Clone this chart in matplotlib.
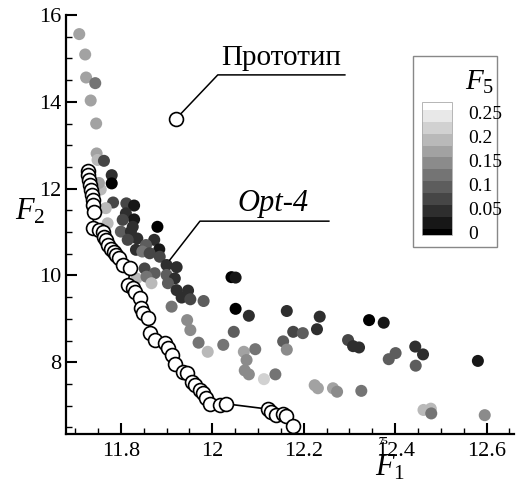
import numpy as np
import matplotlib
matplotlib.use('Agg')
import matplotlib.pyplot as plt
from matplotlib.colors import BoundaryNorm, ListedColormap
from matplotlib.patches import Rectangle

plt.rcParams['font.family'] = ['Liberation Serif', 'DejaVu Serif']
plt.rcParams['mathtext.fontset'] = 'custom'
plt.rcParams['mathtext.rm'] = 'Liberation Serif'
plt.rcParams['mathtext.it'] = 'Liberation Serif:italic'

# Pareto front (open circles joined by a line)
paretoF1 = [11.729, 11.729, 11.731, 11.732, 11.734, 11.737, 11.738, 11.739, 11.742,
            11.738, 11.753, 11.760, 11.763, 11.767, 11.771, 11.778, 11.785, 11.789,
            11.796, 11.805, 11.820, 11.816, 11.827, 11.831, 11.842, 11.845, 11.849,
            11.860, 11.863, 11.874, 11.896, 11.903, 11.911, 11.918, 11.936, 11.944,
            11.955, 11.962, 11.973, 11.980, 11.987, 11.995, 12.016, 12.031, 12.122,
            12.129, 12.140, 12.155, 12.162, 12.177]
paretoF2 = [12.40, 12.31, 12.20, 12.08, 11.97, 11.85, 11.74, 11.62, 11.47,
            11.09, 11.05, 11.01, 10.89, 10.82, 10.70, 10.62, 10.55, 10.47,
            10.39, 10.24, 10.16, 9.78, 9.70, 9.62, 9.47, 9.24, 9.13,
            9.01, 8.67, 8.51, 8.44, 8.32, 8.17, 7.97, 7.78, 7.76,
            7.55, 7.47, 7.36, 7.28, 7.17, 7.04, 7.01, 7.04, 6.92,
            6.86, 6.78, 6.81, 6.76, 6.53]

# population, coloured by F5
popF1 = [11.709, 11.722, 11.724, 11.744, 11.734, 11.746, 11.747, 11.749, 11.763, 11.780,
         11.780, 11.756, 11.752, 11.783, 11.767, 11.812, 11.829, 11.811, 11.829, 11.804,
         11.826, 11.771, 11.800, 11.822, 11.880, 11.836, 11.815, 11.873, 11.855, 11.884,
         11.833, 11.847, 11.863, 11.885, 11.900, 11.922, 11.852, 11.874, 11.834, 11.856,
         11.867, 11.900, 11.918, 11.903, 11.922, 11.947, 11.933, 11.952, 11.981, 11.911,
         12.042, 12.051, 12.051, 12.080, 12.163, 12.235, 12.229, 12.177, 12.198, 12.047,
         12.155, 12.163, 11.945, 11.952, 11.970, 11.990, 12.024, 12.069, 12.094, 12.075,
         12.071, 12.080, 12.113, 12.138, 12.224, 12.231, 12.264, 12.273, 12.326, 12.343,
         12.375, 12.297, 12.308, 12.321, 12.386, 12.401, 12.444, 12.461, 12.445, 12.581,
         12.462, 12.478, 12.479, 12.596]
popF2 = [15.56, 15.09, 14.56, 14.43, 14.03, 13.50, 12.81, 12.66, 12.64, 12.31,
         12.12, 11.98, 12.13, 11.68, 11.55, 11.66, 11.61, 11.43, 11.29, 11.28,
         11.12, 11.20, 11.01, 11.01, 11.12, 10.85, 10.82, 10.82, 10.70, 10.60,
         10.59, 10.55, 10.51, 10.43, 10.24, 10.19, 10.16, 10.05, 9.93, 9.97,
         9.82, 10.01, 9.93, 9.82, 9.66, 9.65, 9.49, 9.45, 9.41, 9.28,
         9.96, 9.95, 9.23, 9.07, 9.18, 9.05, 8.76, 8.70, 8.67, 8.70,
         8.48, 8.29, 8.97, 8.74, 8.45, 8.24, 8.40, 8.24, 8.30, 8.05,
         7.81, 7.72, 7.61, 7.72, 7.47, 7.40, 7.40, 7.32, 7.34, 8.97,
         8.91, 8.51, 8.37, 8.34, 8.07, 8.21, 8.36, 8.18, 7.92, 8.03,
         6.90, 6.93, 6.82, 6.78]
popF5 = [0.17, 0.17, 0.16, 0.11, 0.17, 0.16, 0.18, 0.19, 0.06, 0.04,
         0.00, 0.20, 0.18, 0.08, 0.19, 0.06, 0.01, 0.05, 0.01, 0.08,
         0.04, 0.20, 0.09, 0.05, 0.00, 0.05, 0.08, 0.05, 0.10, 0.01,
         0.05, 0.12, 0.06, 0.06, 0.04, 0.05, 0.08, 0.09, 0.20, 0.12,
         0.20, 0.09, 0.04, 0.10, 0.05, 0.05, 0.04, 0.07, 0.10, 0.11,
         0.00, 0.03, 0.00, 0.05, 0.04, 0.05, 0.04, 0.07, 0.09, 0.09,
         0.09, 0.14, 0.14, 0.14, 0.11, 0.20, 0.12, 0.18, 0.11, 0.15,
         0.15, 0.14, 0.21, 0.12, 0.17, 0.16, 0.18, 0.15, 0.12, 0.00,
         0.01, 0.06, 0.04, 0.05, 0.09, 0.10, 0.04, 0.04, 0.09, 0.03,
         0.20, 0.19, 0.12, 0.15]

protoF1, protoF2 = 11.92, 13.60
opt4F1, opt4F2 = 11.907, 10.355

# contour levels of the F5 legend
f5Bounds = [-0.006, 0.006, 0.031, 0.056, 0.081, 0.106, 0.131, 0.156,
            0.181, 0.206, 0.231, 0.256, 0.272]
f5Ticks = [0, 0.05, 0.1, 0.15, 0.2, 0.25]
f5TickLabels = ['0', '0.05', '0.1', '0.15', '0.2', '0.25']

xTicks = [11.8, 12.0, 12.2, 12.4, 12.6]
xTickLabels = ['11.8', '12', '12.2', '12.4', '12.6']
yTicks = [8, 10, 12, 14, 16]

grays = np.linspace(0, 1, len(f5Bounds) - 1)
cmap = ListedColormap([(g, g, g) for g in grays])
norm = BoundaryNorm(f5Bounds, cmap.N)

fig = plt.figure(figsize=(5.25, 4.9), dpi=100)
ax = fig.add_axes([66/525, 1-434/490, 448/525, 419/490])

ax.scatter(popF1, popF2, c=popF5, cmap=cmap, norm=norm, s=75,
           edgecolors='none', zorder=2)
ax.plot(paretoF1, paretoF2, '-', color='k', lw=1.2, marker='o',
        mfc='white', mec='k', ms=10, mew=1.2, zorder=3)

# annotations
ax.plot([protoF1, 12.012, 12.29], [protoF2, 14.62, 14.62], color='k', lw=1.1, zorder=3)
ax.plot([protoF1], [protoF2], 'o', mfc='white', mec='k', ms=10, mew=1.2, zorder=4)
ax.text(12.151, 14.70, 'Прототип', fontsize=21, ha='center', va='bottom')
ax.plot([opt4F1, 11.973, 12.255], [opt4F2, 11.25, 11.25], color='k', lw=1.1, zorder=3)
ax.text(12.132, 11.33, 'Opt-4', fontsize=22, style='italic', ha='center', va='bottom')

ax.set_xlim(11.68, 12.66)
ax.set_ylim(6.346, 16)
ax.set_xticks(xTicks)
ax.set_xticklabels(xTickLabels)
ax.set_yticks(yTicks)
ax.set_xticks(np.arange(11.70, 12.66, 0.05), minor=True)
ax.set_yticks(np.arange(6.5, 16.01, 0.5), minor=True)
ax.tick_params(which='major', direction='in', length=8, width=1.5, labelsize=16)
ax.tick_params(which='minor', direction='in', length=4, width=1.0)
ax.tick_params(axis='x', pad=6)
for side in ['top', 'right']:
    ax.spines[side].set_visible(False)
for side in ['left', 'bottom']:
    ax.spines[side].set_linewidth(1.6)

fig.text(390/525, 1-468/490, r'$\mathit{F}_{\mathit{1}}$', fontsize=22, ha='center', va='center')
fig.text(30/525, 1-212/490, r'$\mathit{F}_{\mathit{2}}$', fontsize=22, ha='center', va='center')
fig.text(383/525, 1-441/490, '75', fontsize=7, fontweight='bold', ha='center', va='center')

# F5 legend box
fig.patches.append(Rectangle((413/525, 1-247/490), 84/525, 191/490,
                             transform=fig.transFigure, facecolor='white',
                             edgecolor='#888888', lw=1.0, zorder=5))
cax = fig.add_axes([422/525, 1-235/490, 30/525, 133/490], zorder=6)
sm = plt.cm.ScalarMappable(cmap=cmap, norm=norm)
cb = fig.colorbar(sm, cax=cax, ticks=f5Ticks, spacing='proportional')
cb.set_ticklabels(f5TickLabels)
cb.ax.minorticks_off()
cb.ax.tick_params(length=0, labelsize=14, pad=12)
cb.outline.set_edgecolor('#aaaaaa')
cb.outline.set_linewidth(0.6)
fig.text(480/525, 1-82/490, r'$\mathit{F}_{\mathit{5}}$', fontsize=21, ha='center',
         va='center', zorder=7)

fig.savefig('out.png', dpi=100)
